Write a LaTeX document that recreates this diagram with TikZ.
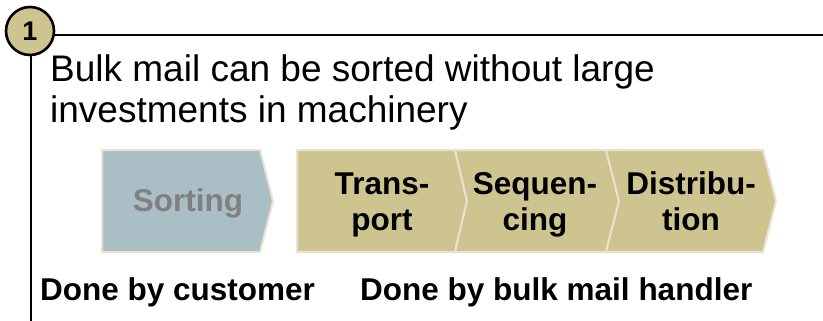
\documentclass[tikz,border=0pt]{standalone}
\usepackage{fontspec}
\setmainfont{Liberation Sans}
\definecolor{khaki}{HTML}{CEC490}
\definecolor{bluegray}{HTML}{AABFC5}
\definecolor{edgebeige}{HTML}{EAE2CE}
\definecolor{mutedtext}{HTML}{808080}
\begin{document}
\begin{tikzpicture}[x=1pt,y=-1pt,
  frameline/.style={line width=2.8pt,black},
  chev/.style={draw=edgebeige,line width=2pt,line join=miter},
  steplabel/.style={inner sep=0pt,align=center,font=\fontsize{31.5}{36}\selectfont\bfseries},
  bottomlabel/.style={inner sep=0pt,anchor=base west,font=\fontsize{31.5}{36}\selectfont\bfseries},
  maintext/.style={inner sep=0pt,anchor=base west,align=left,font=\fontsize{37}{41}\selectfont}]
\useasboundingbox (0,0) rectangle (823,321);
% frame with number
\node[circle,draw=black,line width=2.6pt,fill=khaki,minimum size=48pt,inner sep=0pt,
      font=\fontsize{27}{30}\selectfont\bfseries] (num) at (30,31) {1};
\coordinate (hend) at (823,35);
\coordinate (vend) at (31,321);
\draw[frameline] (num.east |- hend) -- (hend);
\draw[frameline] (vend |- num.south) -- (vend);
% heading text (base anchor = last line baseline)
\node[maintext] (head) at (50,123) {Bulk mail can be sorted without large\\investments in machinery};
% chevrons
\filldraw[chev,fill=bluegray] (102,150) -- (260,150) -- (273,201) -- (260,252) -- (102,252) -- cycle;
\filldraw[chev,fill=khaki] (297,150) -- (455,150) -- (467,201) -- (455,252) -- (297,252) -- cycle;
\filldraw[chev,fill=khaki] (455,150) -- (606,150) -- (619,201) -- (606,252) -- (455,252) -- (467,201) -- cycle;
\filldraw[chev,fill=khaki] (606,150) -- (763,150) -- (776,201) -- (763,252) -- (606,252) -- (619,201) -- cycle;
\node[steplabel,anchor=base,text=mutedtext] (sorting) at (188,211) {Sorting};
\node[steplabel,anchor=base] (transport) at (382,230) {Trans-\\port};
\node[steplabel,anchor=base] (sequencing) at (535,230) {Sequen-\\cing};
\node[steplabel,anchor=base] (distribution) at (691,230) {Distribu-\\tion};
% bottom labels
\node[bottomlabel] (customer) at (40,300) {Done by customer};
\node[bottomlabel] (handler) at (360,300) {Done by bulk mail handler};
\end{tikzpicture}
\end{document}
